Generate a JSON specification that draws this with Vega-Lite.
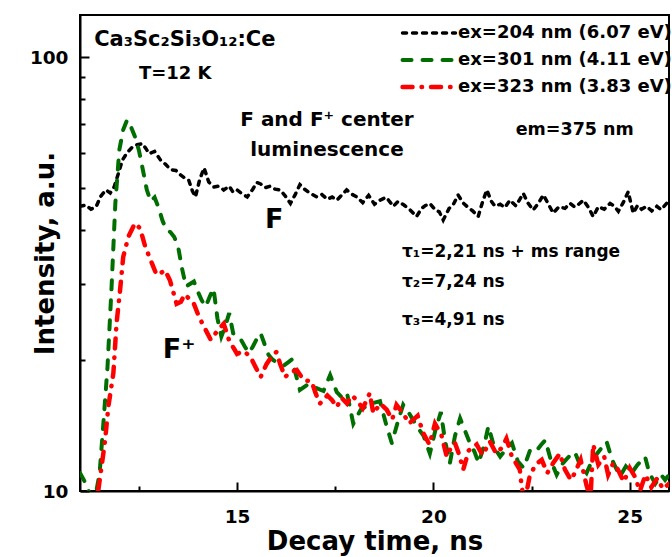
{
  "$schema": "https://vega.github.io/schema/vega-lite/v6.json",
  "width": 589,
  "height": 476,
  "autosize": {"type": "none"},
  "padding": {"left": 80, "top": 15, "right": 3, "bottom": 66},
  "background": "white",
  "config": {
    "font": "DejaVu Sans",
    "view": {"stroke": "#000", "strokeWidth": 2},
    "axis": {"grid": false, "domainColor": "#000", "domainWidth": 2, "tickColor": "#000", "tickWidth": 2, "labelFont": "DejaVu Sans", "labelFontWeight": "bold", "labelFontSize": 18.5, "labelColor": "#000", "titleFont": "DejaVu Sans", "titleFontWeight": "bold", "titleFontSize": 26, "titleColor": "#000"},
    "text": {"font": "DejaVu Sans", "fontWeight": "bold", "color": "#000"}
  },
  "datasets": {
    "lines": [
      {"s": "ex=204 nm (6.07 eV)", "t": 11.0, "v": 45.3},
      {"s": "ex=204 nm (6.07 eV)", "t": 11.15, "v": 45.6},
      {"s": "ex=204 nm (6.07 eV)", "t": 11.28, "v": 44.6},
      {"s": "ex=204 nm (6.07 eV)", "t": 11.41, "v": 45.2},
      {"s": "ex=204 nm (6.07 eV)", "t": 11.53, "v": 47.8},
      {"s": "ex=204 nm (6.07 eV)", "t": 11.66, "v": 49.4},
      {"s": "ex=204 nm (6.07 eV)", "t": 11.77, "v": 48.6},
      {"s": "ex=204 nm (6.07 eV)", "t": 11.87, "v": 50.2},
      {"s": "ex=204 nm (6.07 eV)", "t": 11.98, "v": 54.0},
      {"s": "ex=204 nm (6.07 eV)", "t": 12.08, "v": 57.9},
      {"s": "ex=204 nm (6.07 eV)", "t": 12.2, "v": 60.2},
      {"s": "ex=204 nm (6.07 eV)", "t": 12.34, "v": 62.1},
      {"s": "ex=204 nm (6.07 eV)", "t": 12.46, "v": 62.8},
      {"s": "ex=204 nm (6.07 eV)", "t": 12.59, "v": 63.2},
      {"s": "ex=204 nm (6.07 eV)", "t": 12.68, "v": 61.5},
      {"s": "ex=204 nm (6.07 eV)", "t": 12.76, "v": 59.9},
      {"s": "ex=204 nm (6.07 eV)", "t": 12.9, "v": 60.6},
      {"s": "ex=204 nm (6.07 eV)", "t": 13.05, "v": 57.9},
      {"s": "ex=204 nm (6.07 eV)", "t": 13.18, "v": 56.6},
      {"s": "ex=204 nm (6.07 eV)", "t": 13.31, "v": 55.0},
      {"s": "ex=204 nm (6.07 eV)", "t": 13.44, "v": 54.8},
      {"s": "ex=204 nm (6.07 eV)", "t": 13.56, "v": 53.5},
      {"s": "ex=204 nm (6.07 eV)", "t": 13.67, "v": 52.6},
      {"s": "ex=204 nm (6.07 eV)", "t": 13.77, "v": 52.0},
      {"s": "ex=204 nm (6.07 eV)", "t": 13.86, "v": 49.2},
      {"s": "ex=204 nm (6.07 eV)", "t": 13.94, "v": 47.6},
      {"s": "ex=204 nm (6.07 eV)", "t": 14.05, "v": 52.3},
      {"s": "ex=204 nm (6.07 eV)", "t": 14.16, "v": 55.5},
      {"s": "ex=204 nm (6.07 eV)", "t": 14.28, "v": 51.5},
      {"s": "ex=204 nm (6.07 eV)", "t": 14.41, "v": 50.2},
      {"s": "ex=204 nm (6.07 eV)", "t": 14.54, "v": 50.4},
      {"s": "ex=204 nm (6.07 eV)", "t": 14.66, "v": 49.4},
      {"s": "ex=204 nm (6.07 eV)", "t": 14.8, "v": 50.4},
      {"s": "ex=204 nm (6.07 eV)", "t": 14.9, "v": 48.8},
      {"s": "ex=204 nm (6.07 eV)", "t": 15.0, "v": 49.4},
      {"s": "ex=204 nm (6.07 eV)", "t": 15.13, "v": 48.4},
      {"s": "ex=204 nm (6.07 eV)", "t": 15.26, "v": 47.6},
      {"s": "ex=204 nm (6.07 eV)", "t": 15.4, "v": 49.6},
      {"s": "ex=204 nm (6.07 eV)", "t": 15.5, "v": 51.4},
      {"s": "ex=204 nm (6.07 eV)", "t": 15.6, "v": 51.0},
      {"s": "ex=204 nm (6.07 eV)", "t": 15.72, "v": 50.0},
      {"s": "ex=204 nm (6.07 eV)", "t": 15.85, "v": 50.4},
      {"s": "ex=204 nm (6.07 eV)", "t": 15.97, "v": 49.6},
      {"s": "ex=204 nm (6.07 eV)", "t": 16.1, "v": 49.4},
      {"s": "ex=204 nm (6.07 eV)", "t": 16.23, "v": 47.8},
      {"s": "ex=204 nm (6.07 eV)", "t": 16.36, "v": 46.0},
      {"s": "ex=204 nm (6.07 eV)", "t": 16.48, "v": 48.2},
      {"s": "ex=204 nm (6.07 eV)", "t": 16.6, "v": 50.8},
      {"s": "ex=204 nm (6.07 eV)", "t": 16.72, "v": 49.6},
      {"s": "ex=204 nm (6.07 eV)", "t": 16.85, "v": 48.6},
      {"s": "ex=204 nm (6.07 eV)", "t": 17.03, "v": 47.6},
      {"s": "ex=204 nm (6.07 eV)", "t": 17.16, "v": 48.2},
      {"s": "ex=204 nm (6.07 eV)", "t": 17.3, "v": 47.0},
      {"s": "ex=204 nm (6.07 eV)", "t": 17.42, "v": 47.6},
      {"s": "ex=204 nm (6.07 eV)", "t": 17.54, "v": 46.8},
      {"s": "ex=204 nm (6.07 eV)", "t": 17.66, "v": 48.0},
      {"s": "ex=204 nm (6.07 eV)", "t": 17.79, "v": 49.4},
      {"s": "ex=204 nm (6.07 eV)", "t": 17.92, "v": 48.3},
      {"s": "ex=204 nm (6.07 eV)", "t": 18.05, "v": 47.6},
      {"s": "ex=204 nm (6.07 eV)", "t": 18.2, "v": 46.2},
      {"s": "ex=204 nm (6.07 eV)", "t": 18.35, "v": 48.0},
      {"s": "ex=204 nm (6.07 eV)", "t": 18.5, "v": 45.8},
      {"s": "ex=204 nm (6.07 eV)", "t": 18.64, "v": 46.8},
      {"s": "ex=204 nm (6.07 eV)", "t": 18.8, "v": 47.5},
      {"s": "ex=204 nm (6.07 eV)", "t": 18.98, "v": 45.3},
      {"s": "ex=204 nm (6.07 eV)", "t": 19.1, "v": 46.5},
      {"s": "ex=204 nm (6.07 eV)", "t": 19.25, "v": 45.6},
      {"s": "ex=204 nm (6.07 eV)", "t": 19.4, "v": 44.5},
      {"s": "ex=204 nm (6.07 eV)", "t": 19.57, "v": 42.9},
      {"s": "ex=204 nm (6.07 eV)", "t": 19.7, "v": 44.8},
      {"s": "ex=204 nm (6.07 eV)", "t": 19.8, "v": 45.5},
      {"s": "ex=204 nm (6.07 eV)", "t": 19.91, "v": 46.0},
      {"s": "ex=204 nm (6.07 eV)", "t": 20.05, "v": 44.4},
      {"s": "ex=204 nm (6.07 eV)", "t": 20.15, "v": 44.0},
      {"s": "ex=204 nm (6.07 eV)", "t": 20.25, "v": 42.1},
      {"s": "ex=204 nm (6.07 eV)", "t": 20.4, "v": 44.8},
      {"s": "ex=204 nm (6.07 eV)", "t": 20.5, "v": 45.6},
      {"s": "ex=204 nm (6.07 eV)", "t": 20.63, "v": 48.1},
      {"s": "ex=204 nm (6.07 eV)", "t": 20.75, "v": 46.2},
      {"s": "ex=204 nm (6.07 eV)", "t": 20.85, "v": 45.3},
      {"s": "ex=204 nm (6.07 eV)", "t": 21.0, "v": 44.2},
      {"s": "ex=204 nm (6.07 eV)", "t": 21.14, "v": 42.9},
      {"s": "ex=204 nm (6.07 eV)", "t": 21.25, "v": 46.3},
      {"s": "ex=204 nm (6.07 eV)", "t": 21.36, "v": 49.4},
      {"s": "ex=204 nm (6.07 eV)", "t": 21.47, "v": 46.6},
      {"s": "ex=204 nm (6.07 eV)", "t": 21.57, "v": 45.3},
      {"s": "ex=204 nm (6.07 eV)", "t": 21.7, "v": 45.8},
      {"s": "ex=204 nm (6.07 eV)", "t": 21.82, "v": 45.0},
      {"s": "ex=204 nm (6.07 eV)", "t": 21.95, "v": 46.8},
      {"s": "ex=204 nm (6.07 eV)", "t": 22.1, "v": 45.4},
      {"s": "ex=204 nm (6.07 eV)", "t": 22.2, "v": 47.0},
      {"s": "ex=204 nm (6.07 eV)", "t": 22.29, "v": 48.5},
      {"s": "ex=204 nm (6.07 eV)", "t": 22.4, "v": 46.2},
      {"s": "ex=204 nm (6.07 eV)", "t": 22.54, "v": 44.4},
      {"s": "ex=204 nm (6.07 eV)", "t": 22.67, "v": 46.0},
      {"s": "ex=204 nm (6.07 eV)", "t": 22.8, "v": 48.1},
      {"s": "ex=204 nm (6.07 eV)", "t": 22.93, "v": 45.8},
      {"s": "ex=204 nm (6.07 eV)", "t": 23.05, "v": 43.7},
      {"s": "ex=204 nm (6.07 eV)", "t": 23.2, "v": 45.2},
      {"s": "ex=204 nm (6.07 eV)", "t": 23.35, "v": 44.8},
      {"s": "ex=204 nm (6.07 eV)", "t": 23.48, "v": 46.0},
      {"s": "ex=204 nm (6.07 eV)", "t": 23.6, "v": 45.1},
      {"s": "ex=204 nm (6.07 eV)", "t": 23.7, "v": 45.8},
      {"s": "ex=204 nm (6.07 eV)", "t": 23.82, "v": 46.8},
      {"s": "ex=204 nm (6.07 eV)", "t": 23.95, "v": 45.0},
      {"s": "ex=204 nm (6.07 eV)", "t": 24.07, "v": 42.9},
      {"s": "ex=204 nm (6.07 eV)", "t": 24.2, "v": 45.2},
      {"s": "ex=204 nm (6.07 eV)", "t": 24.35, "v": 44.6},
      {"s": "ex=204 nm (6.07 eV)", "t": 24.5, "v": 46.0},
      {"s": "ex=204 nm (6.07 eV)", "t": 24.6, "v": 45.4},
      {"s": "ex=204 nm (6.07 eV)", "t": 24.71, "v": 44.1},
      {"s": "ex=204 nm (6.07 eV)", "t": 24.84, "v": 46.3},
      {"s": "ex=204 nm (6.07 eV)", "t": 24.96, "v": 48.9},
      {"s": "ex=204 nm (6.07 eV)", "t": 25.09, "v": 43.7},
      {"s": "ex=204 nm (6.07 eV)", "t": 25.2, "v": 45.5},
      {"s": "ex=204 nm (6.07 eV)", "t": 25.3, "v": 44.6},
      {"s": "ex=204 nm (6.07 eV)", "t": 25.43, "v": 45.3},
      {"s": "ex=204 nm (6.07 eV)", "t": 25.56, "v": 44.2},
      {"s": "ex=204 nm (6.07 eV)", "t": 25.69, "v": 45.3},
      {"s": "ex=204 nm (6.07 eV)", "t": 25.8, "v": 44.5},
      {"s": "ex=204 nm (6.07 eV)", "t": 25.94, "v": 46.0},
      {"s": "ex=204 nm (6.07 eV)", "t": 26.0, "v": 45.5},

      {"s": "ex=301 nm (4.11 eV)", "t": 11.0, "v": 11.0},
      {"s": "ex=301 nm (4.11 eV)", "t": 11.1, "v": 10.6},
      {"s": "ex=301 nm (4.11 eV)", "t": 11.2, "v": 10.1},
      {"s": "ex=301 nm (4.11 eV)", "t": 11.3, "v": 9.6},
      {"s": "ex=301 nm (4.11 eV)", "t": 11.4, "v": 9.8},
      {"s": "ex=301 nm (4.11 eV)", "t": 11.5, "v": 11.0},
      {"s": "ex=301 nm (4.11 eV)", "t": 11.6, "v": 14.5},
      {"s": "ex=301 nm (4.11 eV)", "t": 11.7, "v": 19.3},
      {"s": "ex=301 nm (4.11 eV)", "t": 11.8, "v": 29.0},
      {"s": "ex=301 nm (4.11 eV)", "t": 11.9, "v": 46.0},
      {"s": "ex=301 nm (4.11 eV)", "t": 12.0, "v": 61.0},
      {"s": "ex=301 nm (4.11 eV)", "t": 12.1, "v": 68.0},
      {"s": "ex=301 nm (4.11 eV)", "t": 12.2, "v": 71.6},
      {"s": "ex=301 nm (4.11 eV)", "t": 12.3, "v": 69.0},
      {"s": "ex=301 nm (4.11 eV)", "t": 12.4, "v": 65.5},
      {"s": "ex=301 nm (4.11 eV)", "t": 12.5, "v": 61.0},
      {"s": "ex=301 nm (4.11 eV)", "t": 12.6, "v": 55.0},
      {"s": "ex=301 nm (4.11 eV)", "t": 12.7, "v": 49.5},
      {"s": "ex=301 nm (4.11 eV)", "t": 12.8, "v": 46.5},
      {"s": "ex=301 nm (4.11 eV)", "t": 12.9, "v": 47.5},
      {"s": "ex=301 nm (4.11 eV)", "t": 13.0, "v": 45.0},
      {"s": "ex=301 nm (4.11 eV)", "t": 13.1, "v": 42.0},
      {"s": "ex=301 nm (4.11 eV)", "t": 13.2, "v": 40.0},
      {"s": "ex=301 nm (4.11 eV)", "t": 13.3, "v": 39.5},
      {"s": "ex=301 nm (4.11 eV)", "t": 13.4, "v": 38.5},
      {"s": "ex=301 nm (4.11 eV)", "t": 13.5, "v": 36.5},
      {"s": "ex=301 nm (4.11 eV)", "t": 13.6, "v": 32.5},
      {"s": "ex=301 nm (4.11 eV)", "t": 13.7, "v": 29.6},
      {"s": "ex=301 nm (4.11 eV)", "t": 13.8, "v": 30.0},
      {"s": "ex=301 nm (4.11 eV)", "t": 13.9, "v": 30.4},
      {"s": "ex=301 nm (4.11 eV)", "t": 14.0, "v": 28.8},
      {"s": "ex=301 nm (4.11 eV)", "t": 14.1, "v": 27.5},
      {"s": "ex=301 nm (4.11 eV)", "t": 14.2, "v": 26.6},
      {"s": "ex=301 nm (4.11 eV)", "t": 14.3, "v": 28.0},
      {"s": "ex=301 nm (4.11 eV)", "t": 14.4, "v": 29.3},
      {"s": "ex=301 nm (4.11 eV)", "t": 14.5, "v": 25.0},
      {"s": "ex=301 nm (4.11 eV)", "t": 14.6, "v": 22.7},
      {"s": "ex=301 nm (4.11 eV)", "t": 14.7, "v": 24.0},
      {"s": "ex=301 nm (4.11 eV)", "t": 14.8, "v": 25.7},
      {"s": "ex=301 nm (4.11 eV)", "t": 14.9, "v": 23.1},
      {"s": "ex=301 nm (4.11 eV)", "t": 15.0, "v": 22.8},
      {"s": "ex=301 nm (4.11 eV)", "t": 15.1, "v": 22.3},
      {"s": "ex=301 nm (4.11 eV)", "t": 15.2, "v": 21.5},
      {"s": "ex=301 nm (4.11 eV)", "t": 15.3, "v": 20.8},
      {"s": "ex=301 nm (4.11 eV)", "t": 15.4, "v": 21.5},
      {"s": "ex=301 nm (4.11 eV)", "t": 15.5, "v": 22.4},
      {"s": "ex=301 nm (4.11 eV)", "t": 15.6, "v": 23.1},
      {"s": "ex=301 nm (4.11 eV)", "t": 15.7, "v": 21.8},
      {"s": "ex=301 nm (4.11 eV)", "t": 15.8, "v": 20.6},
      {"s": "ex=301 nm (4.11 eV)", "t": 15.9, "v": 20.1},
      {"s": "ex=301 nm (4.11 eV)", "t": 16.0, "v": 19.8},
      {"s": "ex=301 nm (4.11 eV)", "t": 16.1, "v": 19.7},
      {"s": "ex=301 nm (4.11 eV)", "t": 16.2, "v": 19.5},
      {"s": "ex=301 nm (4.11 eV)", "t": 16.3, "v": 19.8},
      {"s": "ex=301 nm (4.11 eV)", "t": 16.4, "v": 20.1},
      {"s": "ex=301 nm (4.11 eV)", "t": 16.5, "v": 18.5},
      {"s": "ex=301 nm (4.11 eV)", "t": 16.6, "v": 17.1},
      {"s": "ex=301 nm (4.11 eV)", "t": 16.8, "v": 17.6},
      {"s": "ex=301 nm (4.11 eV)", "t": 17.0, "v": 17.3},
      {"s": "ex=301 nm (4.11 eV)", "t": 17.2, "v": 17.0},
      {"s": "ex=301 nm (4.11 eV)", "t": 17.37, "v": 18.5},
      {"s": "ex=301 nm (4.11 eV)", "t": 17.54, "v": 16.9},
      {"s": "ex=301 nm (4.11 eV)", "t": 17.68, "v": 16.4},
      {"s": "ex=301 nm (4.11 eV)", "t": 17.8, "v": 16.8},
      {"s": "ex=301 nm (4.11 eV)", "t": 17.96, "v": 14.3},
      {"s": "ex=301 nm (4.11 eV)", "t": 18.15, "v": 15.4},
      {"s": "ex=301 nm (4.11 eV)", "t": 18.4, "v": 15.9},
      {"s": "ex=301 nm (4.11 eV)", "t": 18.64, "v": 16.1},
      {"s": "ex=301 nm (4.11 eV)", "t": 18.8, "v": 14.2},
      {"s": "ex=301 nm (4.11 eV)", "t": 18.94, "v": 12.9},
      {"s": "ex=301 nm (4.11 eV)", "t": 19.1, "v": 14.5},
      {"s": "ex=301 nm (4.11 eV)", "t": 19.23, "v": 15.8},
      {"s": "ex=301 nm (4.11 eV)", "t": 19.4, "v": 15.0},
      {"s": "ex=301 nm (4.11 eV)", "t": 19.6, "v": 14.0},
      {"s": "ex=301 nm (4.11 eV)", "t": 19.75, "v": 13.4},
      {"s": "ex=301 nm (4.11 eV)", "t": 19.91, "v": 12.2},
      {"s": "ex=301 nm (4.11 eV)", "t": 20.05, "v": 13.8},
      {"s": "ex=301 nm (4.11 eV)", "t": 20.19, "v": 15.2},
      {"s": "ex=301 nm (4.11 eV)", "t": 20.3, "v": 13.0},
      {"s": "ex=301 nm (4.11 eV)", "t": 20.42, "v": 11.6},
      {"s": "ex=301 nm (4.11 eV)", "t": 20.55, "v": 13.4},
      {"s": "ex=301 nm (4.11 eV)", "t": 20.68, "v": 14.7},
      {"s": "ex=301 nm (4.11 eV)", "t": 20.8, "v": 13.8},
      {"s": "ex=301 nm (4.11 eV)", "t": 20.93, "v": 12.9},
      {"s": "ex=301 nm (4.11 eV)", "t": 21.05, "v": 12.3},
      {"s": "ex=301 nm (4.11 eV)", "t": 21.15, "v": 11.6},
      {"s": "ex=301 nm (4.11 eV)", "t": 21.3, "v": 12.8},
      {"s": "ex=301 nm (4.11 eV)", "t": 21.4, "v": 14.1},
      {"s": "ex=301 nm (4.11 eV)", "t": 21.55, "v": 12.6},
      {"s": "ex=301 nm (4.11 eV)", "t": 21.7, "v": 12.0},
      {"s": "ex=301 nm (4.11 eV)", "t": 21.85, "v": 12.5},
      {"s": "ex=301 nm (4.11 eV)", "t": 22.0, "v": 12.9},
      {"s": "ex=301 nm (4.11 eV)", "t": 22.15, "v": 11.7},
      {"s": "ex=301 nm (4.11 eV)", "t": 22.3, "v": 11.3},
      {"s": "ex=301 nm (4.11 eV)", "t": 22.46, "v": 12.4},
      {"s": "ex=301 nm (4.11 eV)", "t": 22.6, "v": 12.3},
      {"s": "ex=301 nm (4.11 eV)", "t": 22.75, "v": 12.8},
      {"s": "ex=301 nm (4.11 eV)", "t": 22.85, "v": 13.1},
      {"s": "ex=301 nm (4.11 eV)", "t": 23.0, "v": 11.7},
      {"s": "ex=301 nm (4.11 eV)", "t": 23.14, "v": 10.9},
      {"s": "ex=301 nm (4.11 eV)", "t": 23.3, "v": 11.6},
      {"s": "ex=301 nm (4.11 eV)", "t": 23.45, "v": 12.0},
      {"s": "ex=301 nm (4.11 eV)", "t": 23.6, "v": 12.3},
      {"s": "ex=301 nm (4.11 eV)", "t": 23.75, "v": 11.4},
      {"s": "ex=301 nm (4.11 eV)", "t": 23.9, "v": 11.0},
      {"s": "ex=301 nm (4.11 eV)", "t": 24.05, "v": 11.8},
      {"s": "ex=301 nm (4.11 eV)", "t": 24.2, "v": 12.3},
      {"s": "ex=301 nm (4.11 eV)", "t": 24.41, "v": 13.0},
      {"s": "ex=301 nm (4.11 eV)", "t": 24.55, "v": 11.8},
      {"s": "ex=301 nm (4.11 eV)", "t": 24.75, "v": 10.8},
      {"s": "ex=301 nm (4.11 eV)", "t": 24.9, "v": 11.4},
      {"s": "ex=301 nm (4.11 eV)", "t": 25.05, "v": 11.0},
      {"s": "ex=301 nm (4.11 eV)", "t": 25.2, "v": 11.5},
      {"s": "ex=301 nm (4.11 eV)", "t": 25.39, "v": 12.0},
      {"s": "ex=301 nm (4.11 eV)", "t": 25.5, "v": 11.0},
      {"s": "ex=301 nm (4.11 eV)", "t": 25.65, "v": 10.4},
      {"s": "ex=301 nm (4.11 eV)", "t": 25.8, "v": 10.9},
      {"s": "ex=301 nm (4.11 eV)", "t": 25.9, "v": 10.6},
      {"s": "ex=301 nm (4.11 eV)", "t": 26.0, "v": 10.9},

      {"s": "ex=323 nm (3.83 eV)", "t": 11.0, "v": 9.0},
      {"s": "ex=323 nm (3.83 eV)", "t": 11.2, "v": 9.3},
      {"s": "ex=323 nm (3.83 eV)", "t": 11.4, "v": 9.7},
      {"s": "ex=323 nm (3.83 eV)", "t": 11.47, "v": 10.1},
      {"s": "ex=323 nm (3.83 eV)", "t": 11.55, "v": 11.4},
      {"s": "ex=323 nm (3.83 eV)", "t": 11.64, "v": 13.1},
      {"s": "ex=323 nm (3.83 eV)", "t": 11.72, "v": 15.6},
      {"s": "ex=323 nm (3.83 eV)", "t": 11.85, "v": 18.7},
      {"s": "ex=323 nm (3.83 eV)", "t": 11.93, "v": 24.3},
      {"s": "ex=323 nm (3.83 eV)", "t": 12.02, "v": 29.0},
      {"s": "ex=323 nm (3.83 eV)", "t": 12.1, "v": 34.6},
      {"s": "ex=323 nm (3.83 eV)", "t": 12.23, "v": 38.5},
      {"s": "ex=323 nm (3.83 eV)", "t": 12.4, "v": 41.4},
      {"s": "ex=323 nm (3.83 eV)", "t": 12.53, "v": 40.3},
      {"s": "ex=323 nm (3.83 eV)", "t": 12.66, "v": 36.6},
      {"s": "ex=323 nm (3.83 eV)", "t": 12.83, "v": 33.5},
      {"s": "ex=323 nm (3.83 eV)", "t": 12.95, "v": 31.5},
      {"s": "ex=323 nm (3.83 eV)", "t": 13.06, "v": 31.8},
      {"s": "ex=323 nm (3.83 eV)", "t": 13.16, "v": 32.3},
      {"s": "ex=323 nm (3.83 eV)", "t": 13.29, "v": 30.6},
      {"s": "ex=323 nm (3.83 eV)", "t": 13.46, "v": 27.0},
      {"s": "ex=323 nm (3.83 eV)", "t": 13.57, "v": 27.3},
      {"s": "ex=323 nm (3.83 eV)", "t": 13.67, "v": 28.4},
      {"s": "ex=323 nm (3.83 eV)", "t": 13.8, "v": 27.6},
      {"s": "ex=323 nm (3.83 eV)", "t": 13.9, "v": 27.0},
      {"s": "ex=323 nm (3.83 eV)", "t": 14.03, "v": 25.2},
      {"s": "ex=323 nm (3.83 eV)", "t": 14.16, "v": 23.9},
      {"s": "ex=323 nm (3.83 eV)", "t": 14.33, "v": 22.3},
      {"s": "ex=323 nm (3.83 eV)", "t": 14.5, "v": 23.4},
      {"s": "ex=323 nm (3.83 eV)", "t": 14.66, "v": 24.3},
      {"s": "ex=323 nm (3.83 eV)", "t": 14.8, "v": 22.2},
      {"s": "ex=323 nm (3.83 eV)", "t": 14.92, "v": 21.3},
      {"s": "ex=323 nm (3.83 eV)", "t": 15.0, "v": 20.7},
      {"s": "ex=323 nm (3.83 eV)", "t": 15.17, "v": 21.0},
      {"s": "ex=323 nm (3.83 eV)", "t": 15.34, "v": 20.4},
      {"s": "ex=323 nm (3.83 eV)", "t": 15.47, "v": 19.3},
      {"s": "ex=323 nm (3.83 eV)", "t": 15.6, "v": 18.3},
      {"s": "ex=323 nm (3.83 eV)", "t": 15.75, "v": 19.6},
      {"s": "ex=323 nm (3.83 eV)", "t": 15.88, "v": 20.4},
      {"s": "ex=323 nm (3.83 eV)", "t": 16.0, "v": 20.9},
      {"s": "ex=323 nm (3.83 eV)", "t": 16.1, "v": 19.6},
      {"s": "ex=323 nm (3.83 eV)", "t": 16.22, "v": 18.3},
      {"s": "ex=323 nm (3.83 eV)", "t": 16.37, "v": 18.8},
      {"s": "ex=323 nm (3.83 eV)", "t": 16.52, "v": 19.0},
      {"s": "ex=323 nm (3.83 eV)", "t": 16.7, "v": 18.0},
      {"s": "ex=323 nm (3.83 eV)", "t": 16.9, "v": 17.9},
      {"s": "ex=323 nm (3.83 eV)", "t": 17.0, "v": 16.8},
      {"s": "ex=323 nm (3.83 eV)", "t": 17.11, "v": 15.9},
      {"s": "ex=323 nm (3.83 eV)", "t": 17.3, "v": 16.6},
      {"s": "ex=323 nm (3.83 eV)", "t": 17.42, "v": 16.2},
      {"s": "ex=323 nm (3.83 eV)", "t": 17.54, "v": 15.6},
      {"s": "ex=323 nm (3.83 eV)", "t": 17.66, "v": 16.4},
      {"s": "ex=323 nm (3.83 eV)", "t": 17.8, "v": 15.9},
      {"s": "ex=323 nm (3.83 eV)", "t": 17.92, "v": 16.6},
      {"s": "ex=323 nm (3.83 eV)", "t": 18.05, "v": 16.2},
      {"s": "ex=323 nm (3.83 eV)", "t": 18.2, "v": 15.5},
      {"s": "ex=323 nm (3.83 eV)", "t": 18.38, "v": 16.8},
      {"s": "ex=323 nm (3.83 eV)", "t": 18.47, "v": 15.1},
      {"s": "ex=323 nm (3.83 eV)", "t": 18.65, "v": 15.9},
      {"s": "ex=323 nm (3.83 eV)", "t": 18.81, "v": 15.4},
      {"s": "ex=323 nm (3.83 eV)", "t": 18.95, "v": 14.6},
      {"s": "ex=323 nm (3.83 eV)", "t": 19.06, "v": 15.8},
      {"s": "ex=323 nm (3.83 eV)", "t": 19.25, "v": 15.0},
      {"s": "ex=323 nm (3.83 eV)", "t": 19.38, "v": 14.3},
      {"s": "ex=323 nm (3.83 eV)", "t": 19.49, "v": 14.6},
      {"s": "ex=323 nm (3.83 eV)", "t": 19.6, "v": 14.9},
      {"s": "ex=323 nm (3.83 eV)", "t": 19.74, "v": 13.6},
      {"s": "ex=323 nm (3.83 eV)", "t": 19.9, "v": 12.8},
      {"s": "ex=323 nm (3.83 eV)", "t": 20.04, "v": 14.3},
      {"s": "ex=323 nm (3.83 eV)", "t": 20.2, "v": 13.5},
      {"s": "ex=323 nm (3.83 eV)", "t": 20.34, "v": 12.0},
      {"s": "ex=323 nm (3.83 eV)", "t": 20.45, "v": 12.6},
      {"s": "ex=323 nm (3.83 eV)", "t": 20.55, "v": 12.9},
      {"s": "ex=323 nm (3.83 eV)", "t": 20.66, "v": 12.1},
      {"s": "ex=323 nm (3.83 eV)", "t": 20.76, "v": 11.2},
      {"s": "ex=323 nm (3.83 eV)", "t": 20.9, "v": 12.4},
      {"s": "ex=323 nm (3.83 eV)", "t": 21.1, "v": 12.8},
      {"s": "ex=323 nm (3.83 eV)", "t": 21.25, "v": 12.1},
      {"s": "ex=323 nm (3.83 eV)", "t": 21.44, "v": 13.0},
      {"s": "ex=323 nm (3.83 eV)", "t": 21.6, "v": 12.2},
      {"s": "ex=323 nm (3.83 eV)", "t": 21.75, "v": 12.6},
      {"s": "ex=323 nm (3.83 eV)", "t": 21.86, "v": 13.2},
      {"s": "ex=323 nm (3.83 eV)", "t": 22.0, "v": 12.0},
      {"s": "ex=323 nm (3.83 eV)", "t": 22.1, "v": 11.6},
      {"s": "ex=323 nm (3.83 eV)", "t": 22.2, "v": 11.2},
      {"s": "ex=323 nm (3.83 eV)", "t": 22.25, "v": 10.2},
      {"s": "ex=323 nm (3.83 eV)", "t": 22.32, "v": 9.4},
      {"s": "ex=323 nm (3.83 eV)", "t": 22.45, "v": 10.8},
      {"s": "ex=323 nm (3.83 eV)", "t": 22.6, "v": 11.5},
      {"s": "ex=323 nm (3.83 eV)", "t": 22.76, "v": 11.8},
      {"s": "ex=323 nm (3.83 eV)", "t": 22.9, "v": 11.0},
      {"s": "ex=323 nm (3.83 eV)", "t": 23.05, "v": 11.6},
      {"s": "ex=323 nm (3.83 eV)", "t": 23.22, "v": 12.2},
      {"s": "ex=323 nm (3.83 eV)", "t": 23.35, "v": 11.2},
      {"s": "ex=323 nm (3.83 eV)", "t": 23.5, "v": 10.6},
      {"s": "ex=323 nm (3.83 eV)", "t": 23.6, "v": 11.0},
      {"s": "ex=323 nm (3.83 eV)", "t": 23.75, "v": 11.8},
      {"s": "ex=323 nm (3.83 eV)", "t": 23.9, "v": 10.3},
      {"s": "ex=323 nm (3.83 eV)", "t": 24.0, "v": 9.6},
      {"s": "ex=323 nm (3.83 eV)", "t": 24.07, "v": 12.8},
      {"s": "ex=323 nm (3.83 eV)", "t": 24.2, "v": 11.5},
      {"s": "ex=323 nm (3.83 eV)", "t": 24.35, "v": 12.0},
      {"s": "ex=323 nm (3.83 eV)", "t": 24.45, "v": 10.9},
      {"s": "ex=323 nm (3.83 eV)", "t": 24.58, "v": 11.6},
      {"s": "ex=323 nm (3.83 eV)", "t": 24.7, "v": 11.2},
      {"s": "ex=323 nm (3.83 eV)", "t": 24.85, "v": 10.5},
      {"s": "ex=323 nm (3.83 eV)", "t": 25.0, "v": 11.3},
      {"s": "ex=323 nm (3.83 eV)", "t": 25.13, "v": 10.8},
      {"s": "ex=323 nm (3.83 eV)", "t": 25.26, "v": 10.0},
      {"s": "ex=323 nm (3.83 eV)", "t": 25.4, "v": 10.9},
      {"s": "ex=323 nm (3.83 eV)", "t": 25.55, "v": 10.2},
      {"s": "ex=323 nm (3.83 eV)", "t": 25.7, "v": 10.7},
      {"s": "ex=323 nm (3.83 eV)", "t": 25.85, "v": 10.1},
      {"s": "ex=323 nm (3.83 eV)", "t": 26.0, "v": 10.4}
    ]
  },
  "layer": [
    {
      "data": {"name": "lines"},
      "mark": {"type": "line", "clip": true, "strokeCap": "round"},
      "encoding": {
        "x": {"field": "t", "type": "quantitative", "scale": {"domain": [11, 26], "nice": false, "zero": false},
          "axis": {"values": [15, 20, 25], "format": "d", "tickSize": -9, "labelPadding": 25, "title": "Decay time, ns", "titleY": 37}},
        "y": {"field": "v", "type": "quantitative", "scale": {"type": "log", "domain": [10, 125], "nice": false},
          "axis": {"values": [10, 100], "format": "d", "tickSize": -9, "labelPadding": 21, "title": "Intensity, a.u.", "titleX": -22}},
        "color": {"field": "s", "type": "nominal",
          "scale": {"domain": ["ex=204 nm (6.07 eV)", "ex=301 nm (4.11 eV)", "ex=323 nm (3.83 eV)"], "range": ["#000000", "#006e00", "#ff0000"]},
          "legend": {"title": null, "orient": "none", "legendX": 320, "legendY": 8, "symbolType": "stroke", "symbolSize": 2800, "symbolStrokeWidth": 4, "clipHeight": 20, "rowPadding": 7, "labelFontSize": 18, "labelFontWeight": "bold", "labelFont": "DejaVu Sans", "labelColor": "#000", "labelLimit": 400, "labelOffset": 0, "padding": 0,
            "encode": {"symbols": {"update": {"strokeCap": {"value": "round"}}}}}},
        "strokeDash": {"field": "s", "type": "nominal",
          "scale": {"domain": ["ex=204 nm (6.07 eV)", "ex=301 nm (4.11 eV)", "ex=323 nm (3.83 eV)"], "range": [[4, 6], [9, 11], [10, 9, 0.5, 9]]},
          "legend": {"title": null, "orient": "none", "legendX": 320, "legendY": 8, "symbolType": "stroke", "symbolSize": 2800, "symbolStrokeWidth": 4, "clipHeight": 20, "rowPadding": 7, "labelFontSize": 18, "labelFontWeight": "bold", "labelFont": "DejaVu Sans", "labelColor": "#000", "labelLimit": 400, "labelOffset": 0, "padding": 0,
            "encode": {"symbols": {"update": {"strokeCap": {"value": "round"}}}}}},
        "strokeWidth": {"field": "s", "type": "ordinal",
          "scale": {"domain": ["ex=204 nm (6.07 eV)", "ex=301 nm (4.11 eV)", "ex=323 nm (3.83 eV)"], "range": [3.5, 4.5, 4.5]},
          "legend": null}
      }
    },
    {
      "data": {"values": [{"t": 11.36, "v": 109.7, "label": "Ca₃Sc₂Si₃O₁₂:Ce"}]},
      "mark": {"type": "text", "align": "left", "baseline": "middle", "fontSize": 21},
      "encoding": {"x": {"field": "t", "type": "quantitative", "axis": null}, "y": {"field": "v", "type": "quantitative", "axis": null}, "text": {"field": "label"}}
    },
    {
      "data": {"values": [{"t": 12.5, "v": 91.6, "label": "T=12 K"}]},
      "mark": {"type": "text", "align": "left", "baseline": "middle", "fontSize": 18},
      "encoding": {"x": {"field": "t", "type": "quantitative", "axis": null}, "y": {"field": "v", "type": "quantitative", "axis": null}, "text": {"field": "label"}}
    },
    {
      "data": {"values": [{"t": 17.29, "v": 71.6, "label": "F and F⁺ center"}, {"t": 17.29, "v": 61.1, "label": "luminescence"}]},
      "mark": {"type": "text", "align": "center", "baseline": "middle", "fontSize": 20},
      "encoding": {"x": {"field": "t", "type": "quantitative", "axis": null}, "y": {"field": "v", "type": "quantitative", "axis": null}, "text": {"field": "label"}}
    },
    {
      "data": {"values": [{"t": 23.6, "v": 67.9, "label": "em=375 nm"}]},
      "mark": {"type": "text", "align": "center", "baseline": "middle", "fontSize": 17.5},
      "encoding": {"x": {"field": "t", "type": "quantitative", "axis": null}, "y": {"field": "v", "type": "quantitative", "axis": null}, "text": {"field": "label"}}
    },
    {
      "data": {"values": [{"t": 15.71, "v": 42.1, "label": "F"}, {"t": 13.11, "v": 21.1, "label": "F⁺"}]},
      "mark": {"type": "text", "align": "left", "baseline": "middle", "fontSize": 27},
      "encoding": {"x": {"field": "t", "type": "quantitative", "axis": null}, "y": {"field": "v", "type": "quantitative", "axis": null}, "text": {"field": "label"}}
    },
    {
      "data": {"values": [{"t": 19.2, "v": 35.5, "label": "τ₁=2,21 ns + ms range"}, {"t": 19.2, "v": 30.3, "label": "τ₂=7,24 ns"}, {"t": 19.2, "v": 24.8, "label": "τ₃=4,91 ns"}]},
      "mark": {"type": "text", "align": "left", "baseline": "middle", "fontSize": 17},
      "encoding": {
        "x": {"field": "t", "type": "quantitative", "axis": {"values": [12.5, 17.5, 22.5], "labels": false, "domain": false, "title": null, "tickSize": -5, "orient": "bottom"}},
        "y": {"field": "v", "type": "quantitative", "axis": {"values": [20, 30, 40, 50, 60, 70, 80, 90], "labels": false, "domain": false, "title": null, "tickSize": -5, "orient": "left"}},
        "text": {"field": "label"}
      }
    }
  ],
  "resolve": {"axis": {"x": "independent", "y": "independent"}}
}
